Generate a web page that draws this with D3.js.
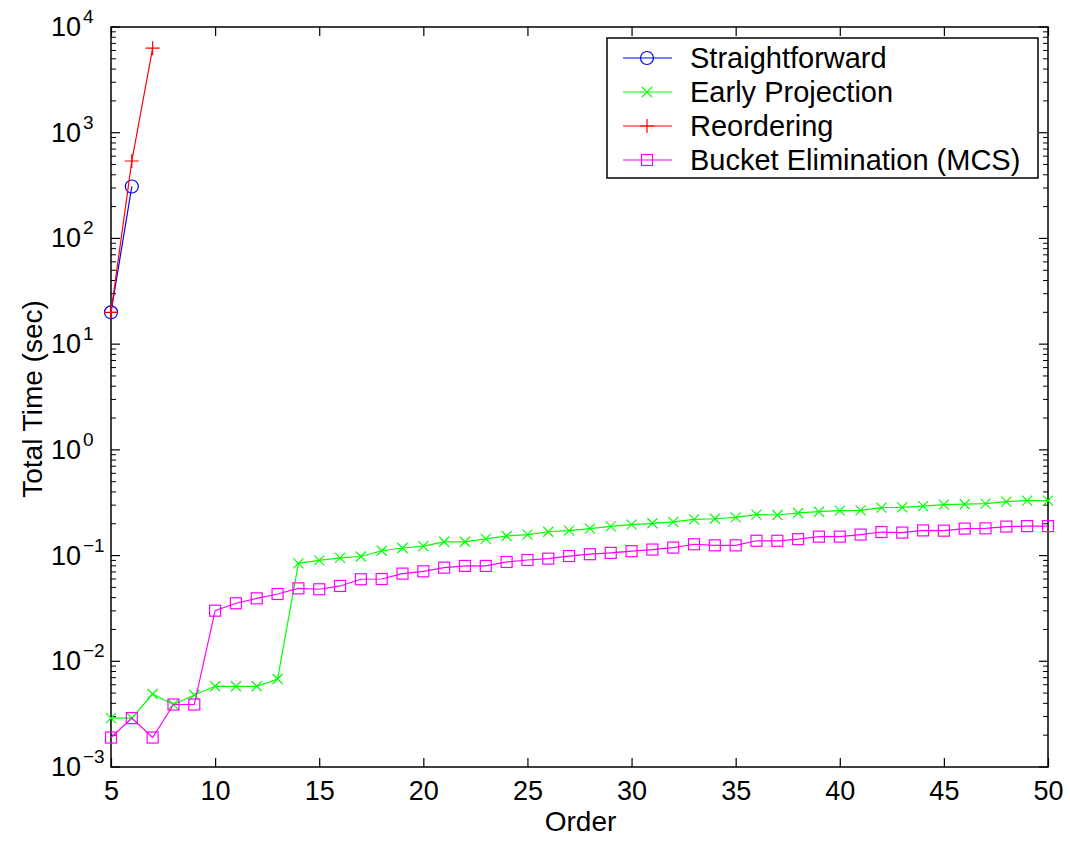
<!DOCTYPE html>
<html>
<head>
<meta charset="utf-8">
<script src="https://cdn.jsdelivr.net/npm/d3@7"></script>
<style>
  body { margin: 0; background: #fff; }
  svg text { font-family: "Liberation Sans", Arial, sans-serif; fill: #000; }
</style>
</head>
<body>
<div id="chart"></div>
<script>
// Orders (x values)
const orders = d3.range(5, 51);

// Series values (seconds)
const straightforward = [20, 310];
const reordering = [20, 540, 6300];
const earlyProjection = [
  0.0029, 0.0029, 0.0049, 0.0039, 0.0048, 0.0058, 0.0058, 0.0058, 0.0068, 0.0845,
  0.090, 0.095, 0.098, 0.111, 0.118, 0.123, 0.135, 0.135, 0.144, 0.153,
  0.158, 0.168, 0.172, 0.180, 0.189, 0.196, 0.202, 0.208, 0.220, 0.223,
  0.230, 0.244, 0.242, 0.253, 0.260, 0.266, 0.268, 0.284, 0.286, 0.294,
  0.303, 0.306, 0.310, 0.324, 0.331, 0.331
];
const bucketElim = [
  0.0019, 0.0029, 0.0019, 0.0039, 0.0039, 0.0301, 0.0354, 0.0394, 0.0433, 0.049,
  0.048, 0.0516, 0.0597, 0.060, 0.0675, 0.071, 0.0769, 0.0798, 0.0798, 0.087,
  0.0908, 0.0935, 0.099, 0.103, 0.106, 0.110, 0.114, 0.119, 0.128, 0.125,
  0.125, 0.138, 0.138, 0.143, 0.151, 0.151, 0.158, 0.167, 0.165, 0.173,
  0.172, 0.180, 0.181, 0.188, 0.190, 0.190
];

const xTicks = d3.range(5, 51, 5);
const yExponents = [-3, -2, -1, 0, 1, 2, 3, 4];

const series = [
  { name: "Straightforward", color: "#0000ff", marker: "circle", values: straightforward },
  { name: "Early Projection", color: "#00ff00", marker: "x", values: earlyProjection },
  { name: "Reordering", color: "#ff0000", marker: "plus", values: reordering },
  { name: "Bucket Elimination (MCS)", color: "#ff00ff", marker: "square", values: bucketElim }
];

const width = 1070, height = 841;
const margin = { top: 27, right: 20, bottom: 74, left: 111 };
const innerW = 1048 - margin.left;
const innerH = 767 - margin.top;

const svg = d3.select("#chart").append("svg")
  .attr("width", width)
  .attr("height", height);

const g = svg.append("g").attr("transform", `translate(${margin.left},${margin.top})`);

const x = d3.scaleLinear().domain([5, 50]).range([0, innerW]);
const y = d3.scaleLog().domain([1e-3, 1e4]).range([innerH, 0]);

// Frame
g.append("rect")
  .attr("width", innerW).attr("height", innerH)
  .attr("fill", "none").attr("stroke", "#000").attr("stroke-width", 1.5);

// x ticks (bottom and top, inward)
const xAxisB = g.append("g").attr("transform", `translate(0,${innerH})`)
  .call(d3.axisBottom(x).tickValues(xTicks).tickSizeInner(-9).tickSizeOuter(0));
const xAxisT = g.append("g")
  .call(d3.axisTop(x).tickValues(xTicks).tickSizeInner(-9).tickSizeOuter(0).tickFormat(""));
[xAxisB, xAxisT].forEach(a => {
  a.select(".domain").remove();
  a.selectAll("line").attr("stroke", "#000").attr("stroke-width", 1.2);
});
xAxisB.selectAll("text")
  .style("font-family", "Liberation Sans, Arial, sans-serif")
  .style("font-size", "27px")
  .attr("dy", null)
  .attr("y", 33);

// y ticks: major + minor, left and right
const minorVals = [];
for (let e = -3; e < 4; e++) for (let m = 2; m <= 9; m++) minorVals.push(m * Math.pow(10, e));
const majorVals = yExponents.map(e => Math.pow(10, e));

function yTicks(sel, side) {
  const sign = side === "left" ? 1 : -1;
  const x0 = side === "left" ? 0 : innerW;
  sel.selectAll("line.major").data(majorVals).join("line")
    .attr("class", "major")
    .attr("x1", x0).attr("x2", x0 + sign * 9)
    .attr("y1", d => y(d)).attr("y2", d => y(d))
    .attr("stroke", "#000").attr("stroke-width", 1.2);
  sel.selectAll("line.minor").data(minorVals).join("line")
    .attr("class", "minor")
    .attr("x1", x0).attr("x2", x0 + sign * 5)
    .attr("y1", d => y(d)).attr("y2", d => y(d))
    .attr("stroke", "#000").attr("stroke-width", 1);
}
yTicks(g.append("g"), "left");
yTicks(g.append("g"), "right");

// y tick labels 10^n : base "10" right-aligned, exponent after it
const yLab = g.append("g").selectAll("g").data(yExponents).join("g")
  .attr("transform", d => `translate(0,${y(Math.pow(10, d))})`);
yLab.append("text")
  .attr("x", -30).attr("y", 9)
  .attr("text-anchor", "end")
  .style("font-size", "27px")
  .text("10");
yLab.append("text")
  .attr("x", -28).attr("y", -4)
  .style("font-size", "19px")
  .text(d => d < 0 ? "\u2212" + Math.abs(d) : d);

// axis titles
svg.append("text")
  .attr("x", margin.left + innerW / 2 + 1).attr("y", 831)
  .attr("text-anchor", "middle").style("font-size", "28px")
  .text("Order");
svg.append("text")
  .attr("transform", "translate(42,399) rotate(-90)")
  .attr("text-anchor", "middle").style("font-size", "28px")
  .text("Total Time (sec)");

// markers
function drawMarker(sel, type, color) {
  if (type === "circle") {
    sel.append("circle").attr("r", 6.5).attr("fill", "none").attr("stroke", color).attr("stroke-width", 1.2);
  } else if (type === "square") {
    sel.append("rect").attr("x", -5.5).attr("y", -5.5).attr("width", 11).attr("height", 11)
      .attr("fill", "none").attr("stroke", color).attr("stroke-width", 1.2);
  } else if (type === "plus") {
    sel.append("path").attr("d", "M-7,0H7M0,-7V7").attr("stroke", color).attr("stroke-width", 1.2);
  } else if (type === "x") {
    sel.append("path").attr("d", "M-5,-5L5,5M-5,5L5,-5").attr("stroke", color).attr("stroke-width", 1.2);
  }
}

const line = d3.line().x(d => x(d[0])).y(d => y(d[1]));

series.forEach(s => {
  const pts = s.values.map((v, i) => [orders[i], v]);
  g.append("path").datum(pts)
    .attr("d", line)
    .attr("fill", "none")
    .attr("stroke", s.color)
    .attr("stroke-width", 1.2);
  g.append("g").selectAll("g").data(pts).join("g")
    .attr("transform", d => `translate(${x(d[0])},${y(d[1])})`)
    .each(function () { drawMarker(d3.select(this), s.marker, s.color); });
});

// legend
const legend = svg.append("g").attr("transform", "translate(607,38)");
legend.append("rect")
  .attr("width", 431).attr("height", 140)
  .attr("fill", "#fff").attr("stroke", "#000").attr("stroke-width", 1.5);
series.forEach((s, i) => {
  const row = legend.append("g").attr("transform", `translate(0,${20 + i * 34})`);
  row.append("line").attr("x1", 16).attr("x2", 65)
    .attr("stroke", s.color).attr("stroke-width", 1.2);
  drawMarker(row.append("g").attr("transform", "translate(40,0)"), s.marker, s.color);
  row.append("text").attr("x", 83).attr("y", 10)
    .style("font-size", "29px").text(s.name);
});
</script>
</body>
</html>
